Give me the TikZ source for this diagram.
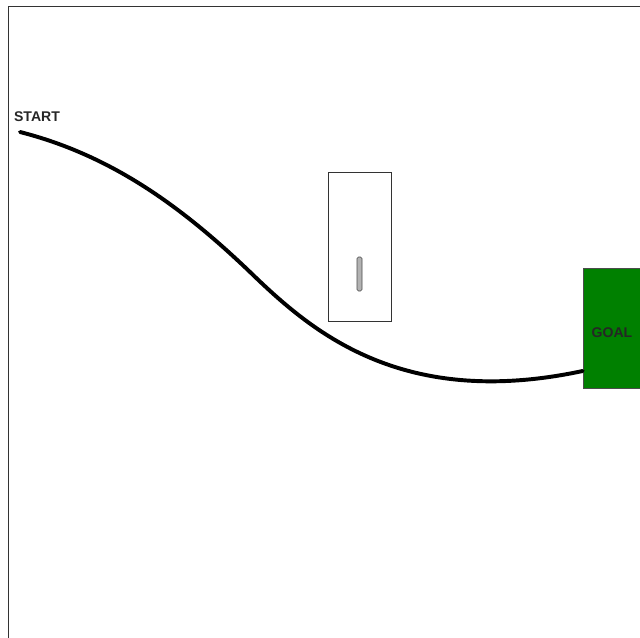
\documentclass[tikz,border=0pt]{standalone}
\usepackage{fontspec}
\setmainfont{Liberation Sans}
\usetikzlibrary{positioning}

\begin{document}
\begin{tikzpicture}[x=0.025cm, y=-0.025cm,
  lbl/.style={font=\fontsize{10}{12}\selectfont\bfseries, text=black!85, inner sep=0pt},
  goalbox/.style={draw=black!70, fill={rgb,255:red,0;green,128;blue,0}, minimum width=57*0.025cm, minimum height=120*0.025cm, inner sep=0pt},
  obst/.style={draw=black!80, fill=white, minimum width=63*0.025cm, minimum height=149*0.025cm, inner sep=0pt},
  rod/.style={draw=black!70, fill=gray!60, rounded corners=1pt, minimum width=5*0.025cm, minimum height=34*0.025cm, inner sep=0pt},
  pathline/.style={line width=2.8pt, line cap=round}
]
\useasboundingbox (0,0) rectangle (640,638);
% Frame
\draw[black!80, line width=0.6pt] (8,638) -- (8,6) -- (640,6);

% Nodes
\node[lbl] (start) at (37,117) {START};
\node[obst] (box) at (359.5,246.5) {};
\node[rod] (rod) at (359.5,274) {};
\node[goalbox] (goal) at (611.5,328) {};
\node[lbl] (goaltxt) at (612,333) {GOAL};

% Path
\coordinate (p0) at (20,132);
\coordinate (p1) at (250,272);
\coordinate (p2) at (goal.west |- 0,371);
\draw[pathline] (p0) .. controls (110,155) and (180,205) .. (p1)
  .. controls (310,330) and (400,410) .. (p2);
\end{tikzpicture}
\end{document}
